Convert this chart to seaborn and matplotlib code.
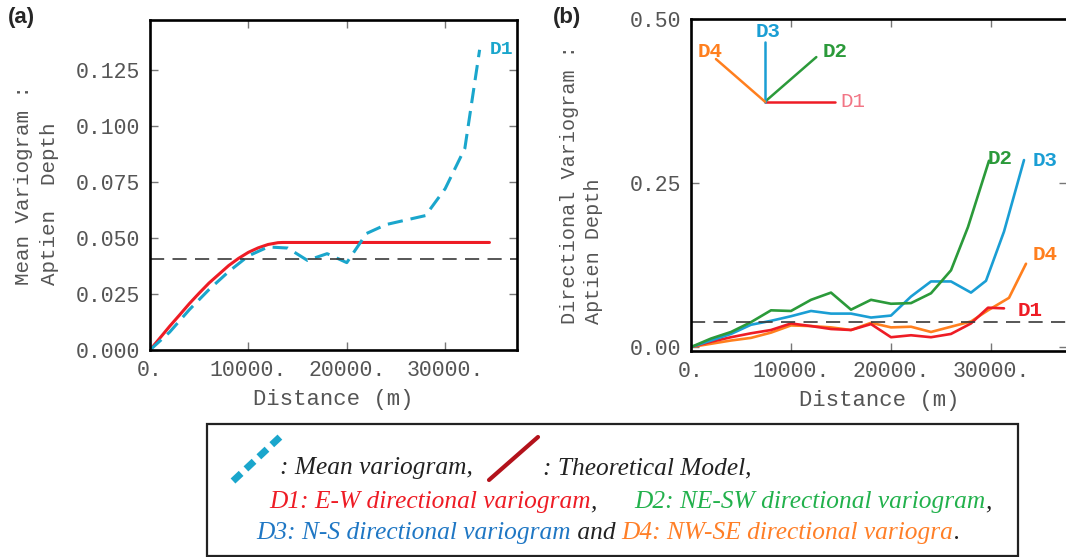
import numpy as np
import pandas as pd
import matplotlib.pyplot as plt
import seaborn as sns
from matplotlib.lines import Line2D
from matplotlib.patches import Rectangle
from matplotlib.ticker import FuncFormatter

# ---- data ----
# (a) mean variogram (experimental) and fitted theoretical model
mean_lag = [0, 2000, 4000, 6000, 8000, 10000, 12000, 14000, 16000, 18000,
            20000, 22000, 24000, 26000, 28000, 30000, 32000, 33500]
mean_gamma = [0.0, 0.008, 0.018, 0.027, 0.035, 0.042, 0.046, 0.0455, 0.040, 0.043,
              0.039, 0.052, 0.056, 0.058, 0.060, 0.072, 0.090, 0.134]

model_lag = [0, 1000, 2000, 3000, 4000, 5000, 6000, 7000, 8000, 9000,
             10000, 11000, 12000, 13000, 13500, 34500]
model_gamma = [0.0, 0.0053, 0.0106, 0.0156, 0.0207, 0.0254, 0.0299, 0.0338, 0.0377, 0.0409,
               0.0436, 0.0456, 0.0471, 0.0479, 0.048, 0.048]

variance_a = 0.0405

# (b) directional variograms
d1_lag = [0, 2000, 4000, 6000, 8000, 10000, 12000, 14000, 16000, 18000,
          20000, 22000, 24000, 26000, 28000, 29700, 31300]
d1_gamma = [0.0, 0.008, 0.015, 0.021, 0.026, 0.036, 0.032, 0.0275, 0.026, 0.035,
            0.015, 0.018, 0.015, 0.020, 0.036, 0.060, 0.059]

d2_lag = [0, 2000, 4000, 6000, 8000, 10000, 12000, 14000, 16000, 18000,
          20000, 22000, 24000, 26000, 27700, 29800]
d2_gamma = [0.0, 0.013, 0.023, 0.038, 0.056, 0.055, 0.072, 0.083, 0.057, 0.072,
            0.066, 0.067, 0.082, 0.117, 0.183, 0.284]

d3_lag = [0, 2000, 4000, 6000, 8000, 10000, 12000, 14000, 16000, 18000,
          20000, 22000, 24000, 26000, 28000, 29500, 31300, 33300]
d3_gamma = [0.0, 0.010, 0.020, 0.034, 0.040, 0.047, 0.055, 0.051, 0.051, 0.045,
            0.048, 0.077, 0.100, 0.100, 0.083, 0.101, 0.176, 0.285]

d4_lag = [0, 2000, 4000, 6000, 8000, 10000, 12000, 14000, 16000, 18000,
          20000, 22000, 24000, 26000, 28000, 29700, 31800, 33500]
d4_gamma = [0.0, 0.005, 0.010, 0.014, 0.022, 0.033, 0.032, 0.030, 0.026, 0.037,
            0.030, 0.031, 0.023, 0.031, 0.039, 0.056, 0.075, 0.127]

variance_b = 0.0385

# compass of directions (angle in degrees, arm length in px)
compass_names = ['D1', 'D2', 'D3', 'D4']
compass_angles = [0, 41, 90, 139]
compass_len_px = [70, 68, 60, 65]

# ---- style ----
CYAN = '#1aa6cc'
RED = '#ee1c25'
GREEN = '#2b9a3a'
BLUE = '#1a9ed4'
ORANGE = '#ff7f1e'
GREY = '#555555'

sns.set_style('ticks')
plt.rcParams['font.family'] = ['Liberation Mono', 'DejaVu Sans']

W, H = 1066, 557
fig = plt.figure(figsize=(W / 100, H / 100), dpi=100)

ax_a = fig.add_axes([150 / W, 1 - 350 / H, (517 - 150) / W, (350 - 20) / H])
ax_b = fig.add_axes([691 / W, 1 - 351 / H, (1067 - 691) / W, (351 - 19) / H])


def style_axes(ax):
    for s in ax.spines.values():
        s.set_linewidth(1.9)
        s.set_color('black')
    ax.tick_params(direction='in', top=True, right=True, length=6, width=1,
                   color='#777777', labelcolor=GREY, labelsize=15.5, pad=7)
    ax.xaxis.set_major_formatter(FuncFormatter(lambda v, p: f'{v:.0f}.'))
    ax.set_xticks([0, 10000, 20000, 30000])
    ax.set_xlabel('Distance (m)', fontsize=16, color=GREY, labelpad=6)


# ---- (a) ----
sns.lineplot(x=model_lag, y=model_gamma, ax=ax_a, color=RED, lw=2.2)
sns.lineplot(x=mean_lag, y=mean_gamma, ax=ax_a, color=CYAN, lw=2.2,
             linestyle=(0, (5, 2.6)))
ax_a.axhline(variance_a, color='#3a3a3a', lw=1.2, linestyle=(0, (8.5, 5)))
ax_a.set_xlim(0, 37300)
ax_a.set_ylim(0, 0.1473)
ax_a.set_yticks([0, 0.025, 0.05, 0.075, 0.1, 0.125])
ax_a.yaxis.set_major_formatter(FuncFormatter(lambda v, p: f'{v:.3f}'))
style_axes(ax_a)
ax_a.set_ylabel('Mean Variogram :\nAptien  Depth', fontsize=15, color=GREY,
                multialignment='left', linespacing=1.45, labelpad=12)
ax_a.text(490 / W, 1 - 50 / H, 'D1', transform=fig.transFigure, color=CYAN,
          fontsize=14, fontweight='bold', va='center', ha='left')

# ---- (b) ----
for lag, gam, col in [(d4_lag, d4_gamma, ORANGE), (d1_lag, d1_gamma, RED),
                      (d3_lag, d3_gamma, BLUE), (d2_lag, d2_gamma, GREEN)]:
    sns.lineplot(x=lag, y=gam, ax=ax_b, color=col, lw=1.9)
ax_b.axhline(variance_b, color='#3a3a3a', lw=1.2, linestyle=(0, (8.5, 5)))
ax_b.set_xlim(0, 37600)
ax_b.set_ylim(-0.006, 0.5)
ax_b.set_yticks([0, 0.25, 0.5])
ax_b.yaxis.set_major_formatter(FuncFormatter(lambda v, p: f'{v:.2f}'))
style_axes(ax_b)
ax_b.set_ylabel('Directional Variogram :\nAptien Depth', fontsize=14.5, color=GREY,
                multialignment='left', linespacing=1.35, labelpad=19)

# end labels of the curves
end_labels = [('D2', GREEN, 988, 158), ('D3', BLUE, 1033, 160),
              ('D4', ORANGE, 1033, 255), ('D1', RED, 1018, 310)]
for name, col, px, py in end_labels:
    fig.text(px / W, 1 - py / H, name, color=col, fontsize=15,
             fontweight='bold', va='center', ha='left')

# compass inset
cx, cy = 765, 101.7
ax_w = (1067 - 691)
ax_h = (351 - 19)
comp_cols = {'D1': RED, 'D2': GREEN, 'D3': BLUE, 'D4': ORANGE}
for name, ang, L in zip(compass_names, compass_angles, compass_len_px):
    ex = cx + L * np.cos(np.radians(ang))
    ey = cy - L * np.sin(np.radians(ang))
    ax_b.add_line(Line2D([(cx - 691) / ax_w, (ex - 691) / ax_w],
                         [(351 - cy) / ax_h, (351 - ey) / ax_h],
                         transform=ax_b.transAxes, color=comp_cols[name], lw=1.8))
comp_text = [('D1', '#f27585', 853, 101.7, 'normal'), ('D2', GREEN, 835, 51.7, 'bold'),
             ('D3', BLUE, 768, 31.7, 'bold'), ('D4', ORANGE, 710, 51.7, 'bold')]
for name, col, px, py, wt in comp_text:
    fig.text(px / W, 1 - py / H, name, color=col, fontsize=15, fontweight=wt,
             va='center', ha='center')

# panel letters
fig.text(8 / W, 1 - 17 / H, '(a)', fontsize=16, fontweight='bold',
         family='Liberation Sans', va='center')
fig.text(553 / W, 1 - 17 / H, '(b)', fontsize=16, fontweight='bold',
         family='Liberation Sans', va='center')

# ---- caption box ----
fig.add_artist(Rectangle((207 / W, 1 / H), (1018 - 207) / W, (556 - 424) / H,
                         transform=fig.transFigure, fill=False, ec='#222222', lw=1.6))
fig.add_artist(Line2D([233 / W, 280 / W], [1 - 481 / H, 1 - 437 / H],
                      transform=fig.transFigure, color=CYAN, lw=5,
                      linestyle=(0, (1.6, 0.95))))
fig.add_artist(Line2D([489 / W, 538 / W], [1 - 480 / H, 1 - 437 / H],
                      transform=fig.transFigure, color='#b3121b', lw=3))

renderer = fig.canvas.get_renderer()
cap_kw = dict(fontsize=18.3, style='italic', family='Liberation Serif', va='center')


def put_pieces(x_px, y_px, pieces):
    x = x_px / W
    for s, col in pieces:
        t = fig.text(x, 1 - y_px / H, s, color=col, **cap_kw)
        bb = t.get_window_extent(renderer=renderer)
        x = bb.x1 / W


put_pieces(280, 468, [(': Mean variogram,', '#222222')])
put_pieces(543, 468, [(': Theoretical Model,', '#222222')])
put_pieces(269, 502, [('D1: E-W directional variogram', '#ee1c25'), (',', '#222222')])
put_pieces(634, 502, [('D2: NE-SW directional variogram', '#22b14c'), (',', '#222222')])
put_pieces(256, 533, [('D3: N-S directional variogram', '#1f77c4'),
                      (' and ', '#222222'),
                      ('D4: NW-SE directional variogra', '#ff7f27'), ('.', '#222222')])

fig.savefig('out.png', dpi=100)
